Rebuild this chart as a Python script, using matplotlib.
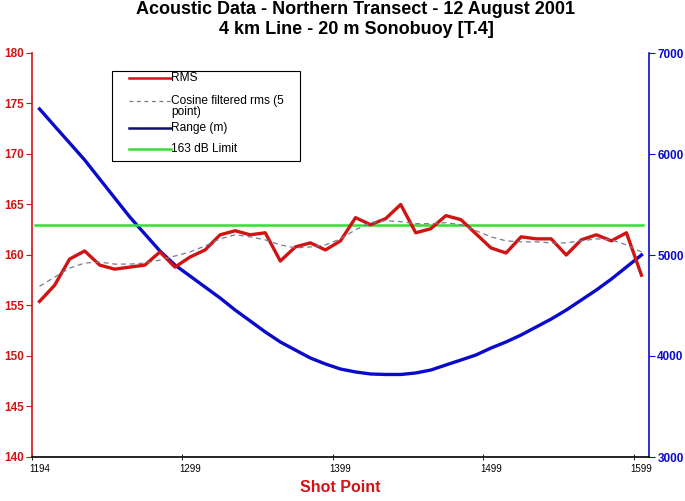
import numpy as np
import matplotlib
matplotlib.use("Agg")
import matplotlib.pyplot as plt
from matplotlib.ticker import FixedLocator, NullFormatter
from matplotlib.patches import Rectangle
from matplotlib.lines import Line2D

plt.rcParams['font.family'] = ['Liberation Sans', 'DejaVu Sans']

# shot point labels (every 10th category of 41)
tick_labels = ["1194", "1299", "1399", "1499", "1599"]

rms = [155.4, 157.0, 159.6, 160.4, 159.0, 158.6, 158.8, 159.0, 160.3, 158.8,
       159.8, 160.5, 162.0, 162.4, 162.0, 162.2, 159.4, 160.8, 161.2, 160.5,
       161.4, 163.7, 163.0, 163.6, 165.0, 162.2, 162.6, 163.9, 163.5, 162.1,
       160.7, 160.2, 161.8, 161.6, 161.6, 160.0, 161.5, 162.0, 161.4, 162.2,
       158.0]

cos_rms = [156.9, 157.8, 158.7, 159.2, 159.3, 159.1, 159.1, 159.2, 159.5, 159.9,
           160.3, 160.9, 161.6, 162.0, 161.8, 161.5, 161.0, 160.7, 160.8, 161.0,
           161.6, 162.5, 163.2, 163.4, 163.3, 163.1, 163.1, 163.2, 163.0, 162.4,
           161.8, 161.4, 161.3, 161.3, 161.2, 161.2, 161.4, 161.6, 161.5, 161.0,
           160.3]

range_m = [6446, 6277, 6109, 5941, 5752, 5564, 5376, 5208, 5040, 4901,
           4792, 4683, 4574, 4455, 4347, 4238, 4139, 4059, 3980, 3921,
           3871, 3842, 3822, 3817, 3817, 3832, 3861, 3911, 3960, 4010,
           4079, 4139, 4208, 4287, 4366, 4455, 4554, 4653, 4762, 4881,
           5000]

limit_db = 163

legend_labels = ["RMS", "Cosine filtered rms (5\npoint)", "Range (m)", "163 dB Limit"]

red = "#d01414"
blue = "#0a0acc"
green = "#33e033"
gray = "#7a7a90"

W, H = 685, 501
x = np.arange(len(rms))

fig = plt.figure(figsize=(W / 100, H / 100), dpi=100)
ax = fig.add_axes([32/W, 44/H, 617/W, 404/H])
ax2 = ax.twinx()

ax.plot(x, rms, color=red, lw=2.4, zorder=4)
ax.plot(x, cos_rms, color=gray, lw=0.9, ls=(0, (4, 3)), zorder=5)
ax2.plot(x, range_m, color=blue, lw=2.4, zorder=3)
ax.axhline(limit_db, color=green, lw=1.8, zorder=3, xmin=0.005, xmax=0.99)

ax.set_zorder(ax2.get_zorder() + 1)
ax.patch.set_visible(False)

ax.set_xlim(-0.5, len(rms) - 0.5)
ax.set_ylim(140, 180)
ax2.set_ylim(3000, 7000)

ax.set_yticks(np.arange(140, 181, 5))
ax2.set_yticks(np.arange(3000, 7001, 1000))

# x: tick marks between categories, labels on categories
ax.xaxis.set_major_locator(FixedLocator([0, 10, 20, 30, 40]))
ax.set_xticklabels(tick_labels, fontsize=7)
ax.tick_params(axis='x', which='major', length=0, pad=5)
ax.xaxis.set_minor_locator(FixedLocator([-0.5, 9.5, 19.5, 29.5, 39.5]))
ax.xaxis.set_minor_formatter(NullFormatter())
ax.tick_params(axis='x', which='minor', length=4, direction='inout', color='black')

for t in ax.get_yticklabels():
    t.set_fontweight('bold')
ax.tick_params(axis='y', colors=red, labelsize=8.5, length=4, pad=2)
for t in ax2.get_yticklabels():
    t.set_fontweight('bold')
ax2.tick_params(axis='y', colors=blue, labelsize=8.5, length=4, pad=2)

for a in (ax, ax2):
    a.spines['top'].set_visible(False)
ax.spines['right'].set_visible(False)
ax2.spines['left'].set_visible(False)
ax2.spines['bottom'].set_visible(False)
ax.spines['left'].set_color(red)
ax.spines['left'].set_linewidth(1.2)
ax2.spines['right'].set_color(blue)
ax2.spines['right'].set_linewidth(1.2)
ax.spines['bottom'].set_linewidth(1.2)

ax.set_xlabel("Shot Point", color=red, fontweight='bold', fontsize=11.5, labelpad=4)

fig.text(356/W, 1 - 10/H, "Acoustic Data - Northern Transect - 12 August 2001",
         ha='center', va='center', fontsize=13, fontweight='bold')
fig.text(356/W, 1 - 30/H, "4 km Line - 20 m Sonobuoy [T.4]",
         ha='center', va='center', fontsize=13, fontweight='bold')


# legend box drawn by hand (Excel style: handle aligned to first text line)
def fx(px):
    return px / W


def fy(py):
    return 1 - py / H


fig.add_artist(Rectangle((fx(112), fy(161)), fx(300) - fx(112), fy(71) - fy(161),
                         transform=fig.transFigure, facecolor='white',
                         edgecolor='black', lw=0.8, zorder=10))
handle_styles = [dict(color=red, lw=1.8),
                 dict(color=gray, lw=0.9, ls=(0, (3, 3))),
                 dict(color="#101070", lw=1.8),
                 dict(color=green, lw=1.8)]
rows_y = [78, 101, 127.5, 149]
for lab, st, py in zip(legend_labels, handle_styles, rows_y):
    fig.add_artist(Line2D([fx(129), fx(171)], [fy(py), fy(py)],
                          transform=fig.transFigure, zorder=11, **st))
    fig.text(fx(171), fy(py - 5.8), lab, ha='left', va='top', fontsize=8.6,
             zorder=12, linespacing=0.85)

fig.savefig("out.png", dpi=100)
